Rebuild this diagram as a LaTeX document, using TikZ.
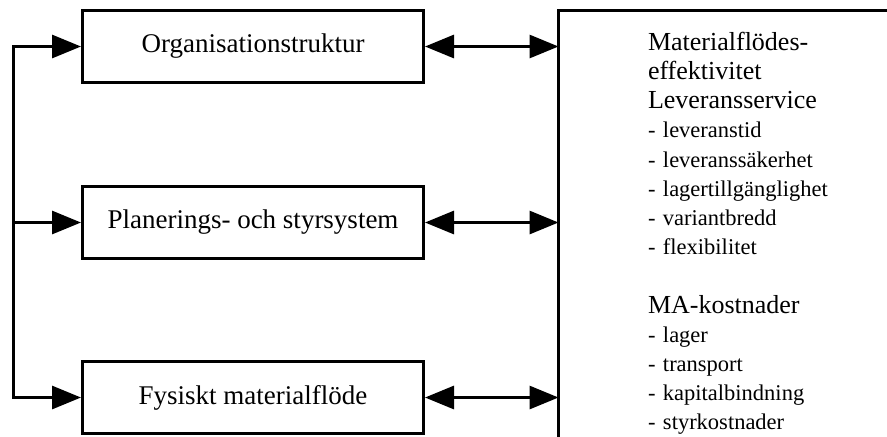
\documentclass[tikz,border=0pt]{standalone}
\usepackage{fontspec}
\setmainfont{Liberation Serif}
\usetikzlibrary{arrows.meta, positioning}

\begin{document}
\begin{tikzpicture}[x=0.5pt, y=-0.5pt, >={Triangle[length=14.5pt, width=11.5pt]}, font=\fontsize{13.5}{16}\selectfont, box/.style={draw, line width=1.5pt, fill=white, align=center, minimum width=170.5pt, minimum height=36pt}, link/.style={line width=1.5pt}]
\useasboundingbox (0,0) rectangle (887,436);
\node[box] (org) at (253,46.5) {Organisationstruktur};
\node[box, below=50.5pt of org] (plan) {Planerings- och styrsystem};
\node[box, below=50pt of plan] (fys) {Fysiskt materialflöde};
\node[box, anchor=north west, outer sep=0pt, align=left, text width=300pt, inner xsep=44.75pt, inner ysep=11pt, font=\fontsize{11.25}{14.6}\selectfont] (res) at (558.5,10) {{\fontsize{13}{14.6}\selectfont Materialflödes-\\effektivitet\\Leveransservice}\\
- leveranstid\\
- leveranssäkerhet\\
- lagertillgänglighet\\
- variantbredd\\
- flexibilitet\\[14.6pt]
{\fontsize{13}{14.6}\selectfont MA-kostnader}\\
- lager\\
- transport\\
- kapitalbindning\\
- styrkostnader};
\coordinate (bus) at (13.5,0);
% vänster samlingslinje
\draw[link, <->] (org.west) -| (fys.west -| bus) -- (fys.west);
\draw[link, ->] (plan.west -| bus) -- (plan.west);
% pilar till resultatrutan
\draw[link, <->] (org.east) -- (org.east -| res.west);
\draw[link, <->] (plan.east) -- (plan.east -| res.west);
\draw[link, <->] (fys.east) -- (fys.east -| res.west);
\end{tikzpicture}
\end{document}
